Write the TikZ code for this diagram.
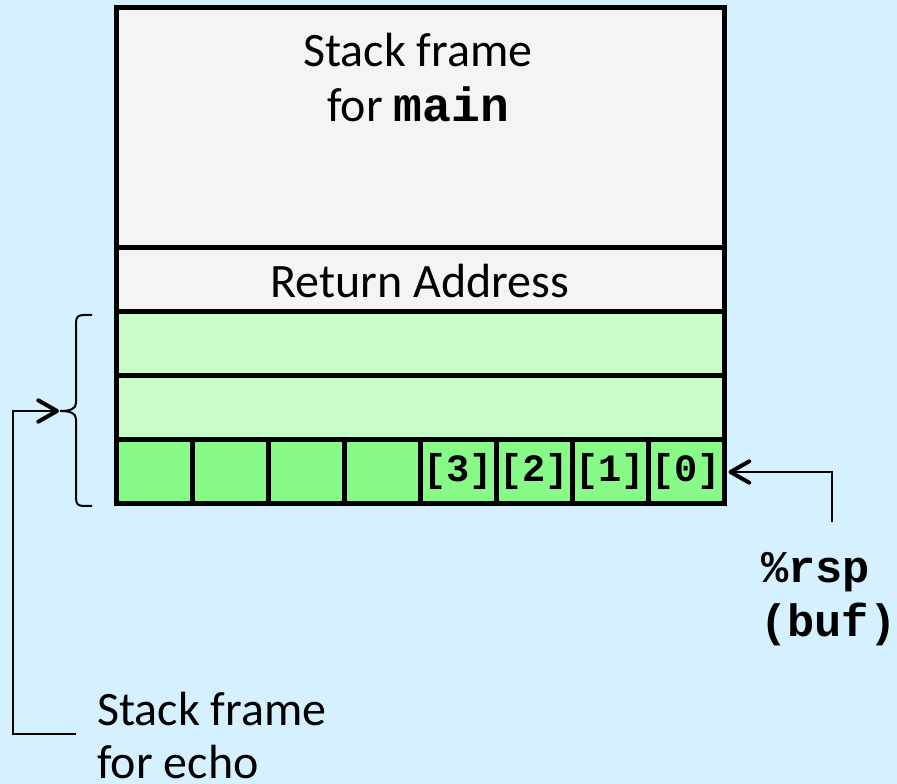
\documentclass[tikz,border=0pt]{standalone}
\usepackage{fontspec}
\setmainfont{Carlito}
\newfontfamily\monofont{Liberation Mono}
\usetikzlibrary{arrows.meta}
\definecolor{bgblue}{HTML}{D5F0FF}
\definecolor{framegray}{HTML}{F4F4F4}
\definecolor{lightgreen}{HTML}{C8FCC8}
\definecolor{cellgreen}{HTML}{88FA88}
\tikzset{
  slab/.style={draw=black, line width=3.75pt, rectangle, minimum width=456pt, inner sep=0pt},
  cellbox/.style={draw=black, line width=3.75pt, rectangle, fill=cellgreen, minimum width=57pt, minimum height=48pt, inner sep=0pt,
     font=\fontsize{29}{32}\selectfont\monofont\bfseries},
  txt/.style={font=\fontsize{36}{41}\selectfont, inner sep=0pt},
  monotxt/.style={font=\fontsize{34}{41}\selectfont\monofont\bfseries, inner sep=0pt},
  conn/.style={line width=1.5pt, -{Straight Barb[length=14pt, width=16pt, line width=3pt, round]}},
  bracestyle/.style={line width=1.5pt}
}
\begin{document}
\begin{tikzpicture}[x=0.75pt, y=-0.75pt]
\fill[bgblue] (0,0) rectangle (897,784);
\useasboundingbox (0,0) rectangle (897,784);
% slabs
\node[slab, fill=framegray, minimum height=180pt] (mainframe) at (420,128) {};
\node[slab, fill=framegray, minimum height=48pt] (retaddr) at (420,280) {};
\node[slab, fill=lightgreen, minimum height=48pt] (gone) at (420,344) {};
\node[slab, fill=lightgreen, minimum height=48pt] (gtwo) at (420,408) {};
% buffer row
\node[cellbox] (c7) at (154,472) {};
\node[cellbox] (c6) at (230,472) {};
\node[cellbox] (c5) at (306,472) {};
\node[cellbox] (c4) at (382,472) {};
\node[cellbox] (c3) at (458,472) {[3]};
\node[cellbox] (c2) at (534,472) {[2]};
\node[cellbox] (c1) at (610,472) {[1]};
\node[cellbox] (c0) at (686,472) {[0]};
% texts
\node[txt, anchor=base] (tmainA) at (418,67) {Stack frame};
\node[txt, anchor=base] (tmainB) at (418,122) {for {\monofont\bfseries main}};
\node[txt, anchor=base] (tret) at (420,298) {Return Address};
\node[monotxt, anchor=base west] (trsp) at (761,582) {\%rsp};
\node[monotxt, anchor=base west] (tbuf) at (760,636) {(buf)};
\node[txt, anchor=base west] (techoA) at (97,725) {Stack frame};
\node[txt, anchor=base west] (techoB) at (97,778) {for echo};
% brace
\coordinate (brtip) at (60,411);
\draw[bracestyle] (92,315) -- (84,315) .. controls (78,315) and (76,317) .. (76,323)
  -- (76,403) .. controls (76,409) and (70,411) .. (brtip)
  .. controls (70,411) and (76,413) .. (76,419)
  -- (76,498) .. controls (76,504) and (78,506) .. (84,506) -- (92,506);
% connectors
\coordinate (rsptail) at (832,522);
\coordinate (rsptip) at ([xshift=1.5pt]c0.east);
\draw[conn] (rsptail) |- (rsptip);
\coordinate (echotail) at (76,734);
\coordinate (echobend) at (13,411);
\coordinate (echotip) at (59,411);
\draw[conn] (echotail) -| (echobend) -- (echotip);
\end{tikzpicture}
\end{document}
